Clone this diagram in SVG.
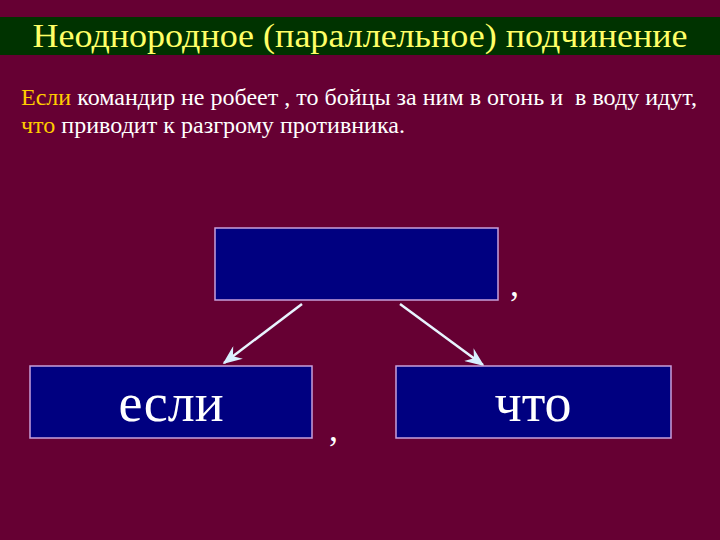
<svg xmlns="http://www.w3.org/2000/svg" width="720" height="540" viewBox="0 0 720 540">
<defs>
<style>
text{font-family:'Liberation Serif','Times New Roman',serif}
.box{fill:#000080;stroke:#c8a0dc;stroke-width:1.5}
.lbl{fill:#ffffff;font-size:54px;text-anchor:middle}
.conn{stroke:#e8f4ff;stroke-width:2.5;fill:none}
.comma{fill:#ffffff;font-size:36px}
</style>
<marker id="ah" viewBox="0 0 12 10" refX="11" refY="5" markerWidth="20" markerHeight="16" markerUnits="userSpaceOnUse" orient="auto">
<path d="M0,0 L12,5 L0,10 L4,5 z" fill="#d8f0ff"/>
</marker>
</defs>
<rect width="720" height="540" fill="#660033"/>
<rect x="0" y="17" width="720" height="38" fill="#003300"/>
<text x="360" y="47" font-family="Liberation Serif" font-size="33" fill="#ffff66" text-anchor="middle" textLength="655" lengthAdjust="spacingAndGlyphs">Неоднородное (параллельное) подчинение</text>
<text x="21" y="105" font-family="Liberation Serif" font-size="23" fill="#ffffff" textLength="676" lengthAdjust="spacingAndGlyphs" xml:space="preserve"><tspan fill="#ffcc00">Если</tspan> командир не робеет , то бойцы за ним в огонь и  в воду идут,</text>
<text x="21" y="133" font-family="Liberation Serif" font-size="23" fill="#ffffff" textLength="384" lengthAdjust="spacingAndGlyphs"><tspan fill="#ffcc00">что</tspan> приводит к разгрому противника.</text>
<g id="connectors">
<line class="conn" x1="302" y1="304" x2="224" y2="363" marker-end="url(#ah)"/>
<line class="conn" x1="400" y1="304" x2="483" y2="365" marker-end="url(#ah)"/>
</g>
<g id="node-main">
<rect class="box" x="215" y="228" width="283" height="72"/>
</g>
<text x="510" y="296" class="comma">,</text>
<g id="node-esli">
<rect class="box" x="30" y="366" width="282" height="72"/>
<text class="lbl" x="171" y="421">если</text>
</g>
<text x="329" y="441" class="comma">,</text>
<g id="node-chto">
<rect class="box" x="396" y="366" width="275" height="72"/>
<text class="lbl" x="533" y="421">что</text>
</g>
</svg>
